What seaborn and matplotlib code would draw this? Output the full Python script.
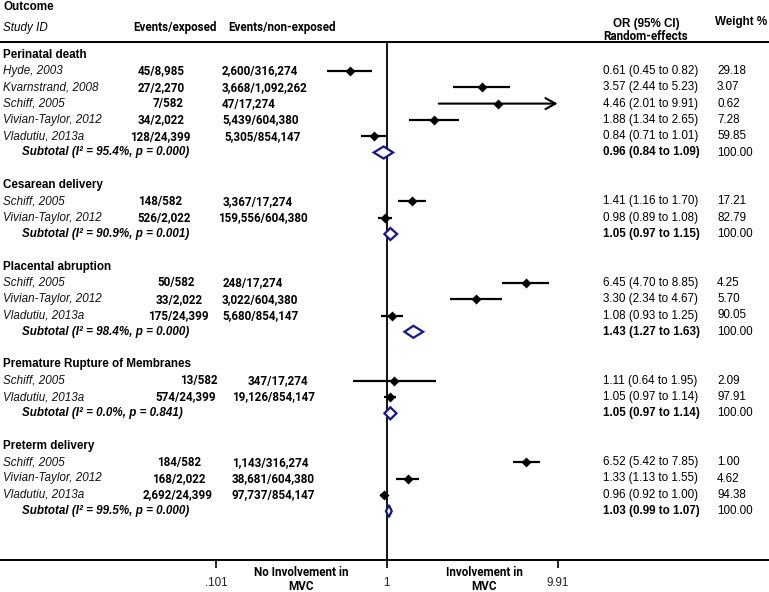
import numpy as np
import pandas as pd
import matplotlib
matplotlib.use("Agg")
import matplotlib.pyplot as plt
import seaborn as sns
from matplotlib.ticker import NullLocator

# ---------------- data ----------------
outcomes = ["Perinatal death", "Cesarean delivery", "Placental abruption",
            "Premature Rupture of Membranes", "Preterm delivery"]
study_outcome = [0, 0, 0, 0, 0, 1, 1, 2, 2, 2, 3, 3, 4, 4, 4]
study_id = ["Hyde, 2003", "Kvarnstrand, 2008", "Schiff, 2005", "Vivian-Taylor, 2012", "Vladutiu, 2013a",
            "Schiff, 2005", "Vivian-Taylor, 2012",
            "Schiff, 2005", "Vivian-Taylor, 2012", "Vladutiu, 2013a",
            "Schiff, 2005", "Vladutiu, 2013a",
            "Schiff, 2005", "Vivian-Taylor, 2012", "Vladutiu, 2013a"]
events_exposed = ["45/8,985", "27/2,270", "7/582", "34/2,022", "128/24,399",
                  "148/582", "526/2,022",
                  "50/582", "33/2,022", "175/24,399",
                  "13/582", "574/24,399",
                  "184/582", "168/2,022", "2,692/24,399"]
events_nonexposed = ["2,600/316,274", "3,668/1,092,262", "47/17,274", "5,439/604,380", "5,305/854,147",
                     "3,367/17,274", "159,556/604,380",
                     "248/17,274", "3,022/604,380", "5,680/854,147",
                     "347/17,274", "19,126/854,147",
                     "1,143/316,274", "38,681/604,380", "97,737/854,147"]
study_or = [0.61, 3.57, 4.46, 1.88, 0.84, 1.41, 0.98, 6.45, 3.30, 1.08, 1.11, 1.05, 6.52, 1.33, 0.96]
study_lo = [0.45, 2.44, 2.01, 1.34, 0.71, 1.16, 0.89, 4.70, 2.34, 0.93, 0.64, 0.97, 5.42, 1.13, 0.92]
study_hi = [0.82, 5.23, 9.91, 2.65, 1.01, 1.70, 1.08, 8.85, 4.67, 1.25, 1.95, 1.14, 7.85, 1.55, 1.00]
study_weight = ["29.18", "3.07", "0.62", "7.28", "59.85", "17.21", "82.79", "4.25", "5.70", "90.05",
                "2.09", "97.91", "1.00", "4.62", "94.38"]

sub_i2 = ["95.4%", "90.9%", "98.4%", "0.0%", "99.5%"]
sub_p = ["0.000", "0.001", "0.000", "0.841", "0.000"]
sub_or = [0.96, 1.05, 1.43, 1.05, 1.03]
sub_lo = [0.84, 0.97, 1.27, 0.97, 0.99]
sub_hi = [1.09, 1.15, 1.63, 1.14, 1.07]

tick_values = [0.101, 1, 9.91]
tick_labels = [".101", "1", "9.91"]

# layout (pixel positions of the text columns)
ev1_left = [138, 138, 153, 138, 130, 138, 137, 157, 156, 148, 180, 155, 157, 152, 143]
ev2_left = [222, 222, 222, 222, 224, 223, 218, 223, 222, 222, 248, 232, 232, 232, 232]

# ---------------- figure ----------------
sns.set_theme(style="white")
ARIAL = ["Liberation Sans", "DejaVu Sans"]
CAL = ["Roboto", "DejaVu Sans"]
plt.rcParams["font.family"] = ARIAL

W, H = 769, 592
TOP, BOT = 42, 560
ROW0, ROWH = 71, 16.3
fig = plt.figure(figsize=(W / 100, H / 100), dpi=100)
ax = fig.add_axes([0, 1 - BOT / H, 1, (BOT - TOP) / H])


def pxrow(px):
    return (px - ROW0) / ROWH


# rows
heading_row, sub_row, srow = [], [], []
r = -1
for k in range(len(outcomes)):
    heading_row.append(r)
    r += 1
    for j, o in enumerate(study_outcome):
        if o == k:
            srow.append(r)
            r += 1
    sub_row.append(r)
    r += 2

df = pd.DataFrame({"row": srow, "OR": study_or, "lo": study_lo, "hi": study_hi})

ax.set_xscale("log")
ax.axvline(1, color="black", lw=1.3, zorder=2)

# confidence intervals
for _, d in df.iterrows():
    if d.hi >= tick_values[-1]:
        ax.annotate("", xy=(d.hi, d.row), xytext=(d.lo, d.row),
                    arrowprops=dict(arrowstyle="->,head_length=0.6,head_width=0.33",
                                    lw=1.5, color="black", shrinkA=0, shrinkB=0))
    else:
        ax.hlines(d.row, d.lo, d.hi, color="black", lw=1.6, zorder=3)

sns.scatterplot(data=df, x="OR", y="row", marker="D", color="black", s=26,
                edgecolor="black", linewidth=0, ax=ax, zorder=4, legend=False)

# subtotal diamonds
NAVY = "#16168a"
hh = 0.37
for k in range(len(outcomes)):
    y = sub_row[k]
    ax.fill([sub_lo[k], sub_or[k], sub_hi[k], sub_or[k]],
            [y, y - hh, y, y + hh], facecolor="white", edgecolor=NAVY, lw=1.6, zorder=4)

ax.set_xlim(0.005572, 169.2)
ax.set_ylim(pxrow(BOT), pxrow(TOP))
ax.set_xlabel("")
ax.set_ylabel("")
ax.set_yticks([])
ax.set_xticks(tick_values)
ax.set_xticklabels(tick_labels)
ax.xaxis.set_minor_locator(NullLocator())
ax.tick_params(axis="x", which="major", bottom=True, direction="out", length=5.8,
               width=1.2, color="black", labelsize=8.4, labelcolor="#222222", pad=6.5)
for s in ["left", "right"]:
    ax.spines[s].set_visible(False)
for s in ["top", "bottom"]:
    ax.spines[s].set_visible(True)
    ax.spines[s].set_color("black")
    ax.spines[s].set_linewidth(1.4)

trans = ax.get_yaxis_transform()
FS = 8.4


def T(xpx, y, s, ha="left", family=ARIAL, **kw):
    ax.text(xpx / W, y, s, transform=trans, ha=ha, va="center", clip_on=False,
            fontsize=kw.pop("fontsize", FS), family=family, color=kw.pop("color", "black"), **kw)


# header
T(3, pxrow(7), "Outcome", weight="bold")
T(3, pxrow(28), "Study ID", style="italic")
T(133, pxrow(28), "Events/exposed", family=CAL, weight="bold")
T(228, pxrow(28), "Events/non-exposed", family=CAL, weight="bold")
T(646, pxrow(24), "OR (95% CI)", ha="center", weight="bold")
T(646, pxrow(36), "Random-effects", ha="center", family=CAL, weight="bold")
T(715, pxrow(22), "Weight %", weight="bold")

for k in range(len(outcomes)):
    T(3, heading_row[k], outcomes[k], weight="bold")
    y = sub_row[k]
    T(22, y, f"Subtotal (I\u00b2 = {sub_i2[k]}, p = {sub_p[k]})", weight="bold", style="italic")
    T(603, y, f"{sub_or[k]:.2f} ({sub_lo[k]:.2f} to {sub_hi[k]:.2f})", weight="bold")
    T(717, y, "100.00")

for i in range(len(study_id)):
    y = srow[i]
    T(3, y, study_id[i], style="italic", color="#111111")
    T(ev1_left[i], y, events_exposed[i], family=CAL, weight="bold")
    T(ev2_left[i], y, events_nonexposed[i], family=CAL, weight="bold")
    T(603, y, f"{study_or[i]:.2f} ({study_lo[i]:.2f} to {study_hi[i]:.2f})")
    T(717, y, study_weight[i])

# bottom direction labels
T(301, pxrow(572), "No Involvement in", ha="center", family=CAL, weight="bold")
T(301, pxrow(587), "MVC", ha="center", family=CAL, weight="bold")
T(484, pxrow(572), "Involvement in", ha="center", family=CAL, weight="bold")
T(484, pxrow(587), "MVC", ha="center", family=CAL, weight="bold")

fig.savefig("out.png", dpi=100, facecolor="white")
